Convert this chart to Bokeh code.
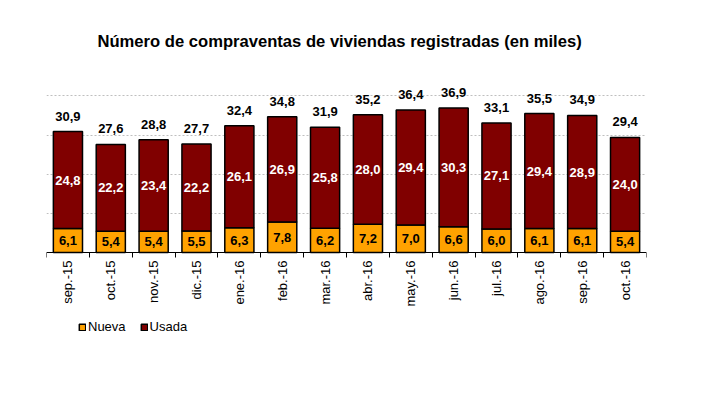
import math
from bokeh.plotting import figure
from bokeh.models import ColumnDataSource, Range1d, FixedTicker, Legend, LegendItem
from bokeh.core.properties import value
from bokeh.embed import file_html
from bokeh.resources import INLINE

months = ["sep.-15", "oct.-15", "nov.-15", "dic.-15", "ene.-16", "feb.-16", "mar.-16",
          "abr.-16", "may.-16", "jun.-16", "jul.-16", "ago.-16", "sep.-16", "oct.-16"]
nueva = [6.1, 5.4, 5.4, 5.5, 6.3, 7.8, 6.2, 7.2, 7.0, 6.6, 6.0, 6.1, 6.1, 5.4]
usada = [24.8, 22.2, 23.4, 22.2, 26.1, 26.9, 25.8, 28.0, 29.4, 30.3, 27.1, 29.4, 28.9, 24.0]
totales = [30.9, 27.6, 28.8, 27.7, 32.4, 34.8, 31.9, 35.2, 36.4, 36.9, 33.1, 35.5, 34.9, 29.4]

FONT = value("Liberation Sans")


def fmt(v):
    return f"{v:.1f}".replace(".", ",")


n = len(months)
xs = [i + 0.5 for i in range(n)]
src = ColumnDataSource(dict(
    x=xs,
    zero=[0] * n,
    mes=months,
    nueva=nueva,
    stack=[a + b for a, b in zip(nueva, usada)],
    yn=[a / 2 for a in nueva],
    yu=[a + b / 2 for a, b in zip(nueva, usada)],
    yt=[a + b for a, b in zip(nueva, usada)],
    ln=[fmt(v) for v in nueva],
    lu=[fmt(v) for v in usada],
    lt=[fmt(v) for v in totales],
))

PX_PER_UNIT = 184 / 47
FRAME_H = 268
p = figure(frame_width=600, frame_height=FRAME_H,
           x_range=Range1d(0, n), y_range=Range1d(47 - FRAME_H / PX_PER_UNIT, 47),
           output_backend="svg", toolbar_location=None,
           min_border_left=46, min_border_right=54, min_border_top=68, min_border_bottom=0)

p.title.text = "Número de compraventas de viviendas registradas (en miles)"
p.title.align = "left"
p.title.offset = 51
p.title.standoff = 36
p.title.text_font = "Liberation Sans"
p.title.text_font_size = "16.6px"
p.title.text_font_style = "bold"
p.title.text_color = "black"

r1 = p.vbar(x="x", bottom=0, top="nueva", width=0.68, fill_color="#FFA200",
            line_color="black", line_width=1.5, source=src)
r2 = p.vbar(x="x", bottom="nueva", top="stack", width=0.68, fill_color="#800000",
            line_color="black", line_width=1.5, source=src)

common = dict(text_align="center", text_font=FONT, text_font_style="bold",
              text_font_size="13px", source=src)
p.text(x="x", y="yn", text="ln", text_baseline="middle", text_color="black", **common)
p.text(x="x", y="yu", text="lu", text_baseline="middle", text_color="white", **common)
p.text(x="x", y="yt", text="lt", text_baseline="bottom", text_color="black", y_offset=-11, **common)

# category labels, rotated, hanging below the baseline
p.text(x="x", y="zero", text="mes", angle=math.pi / 2, text_align="right",
       text_baseline="middle", y_offset=8, text_font=FONT, text_font_size="13px",
       text_color="black", source=src)

p.yaxis.visible = False
p.xgrid.visible = False
p.ygrid.ticker = FixedTicker(ticks=[10, 20, 30, 40])
p.ygrid.grid_line_color = "#bfbfbf"
p.ygrid.grid_line_dash = "2 2"
p.ygrid.grid_line_width = 1

ax = p.xaxis[0]
ax.fixed_location = 0
ax.ticker = FixedTicker(ticks=[], minor_ticks=list(range(n + 1)))
ax.major_label_text_font_size = "0px"
ax.major_tick_line_color = None
ax.major_tick_in = 0
ax.major_tick_out = 0
ax.minor_tick_in = 0
ax.minor_tick_out = 5
ax.minor_tick_line_color = "black"
ax.axis_line_color = "black"
ax.axis_line_width = 1

p.outline_line_color = None

legend = Legend(items=[LegendItem(label="Nueva", renderers=[r1]),
                       LegendItem(label="Usada", renderers=[r2])],
                orientation="horizontal", location=(32, 2))
legend.padding = 0
legend.margin = 0
legend.border_line_color = None
legend.background_fill_color = None
legend.background_fill_alpha = 0
legend.glyph_width = 8
legend.glyph_height = 8
legend.label_height = 14
legend.label_standoff = 2
legend.spacing = 14
legend.label_text_font = "Liberation Sans"
legend.label_text_font_size = "13px"
legend.label_text_color = "black"
p.add_layout(legend)

open("out.html", "w").write(file_html(p, INLINE))
